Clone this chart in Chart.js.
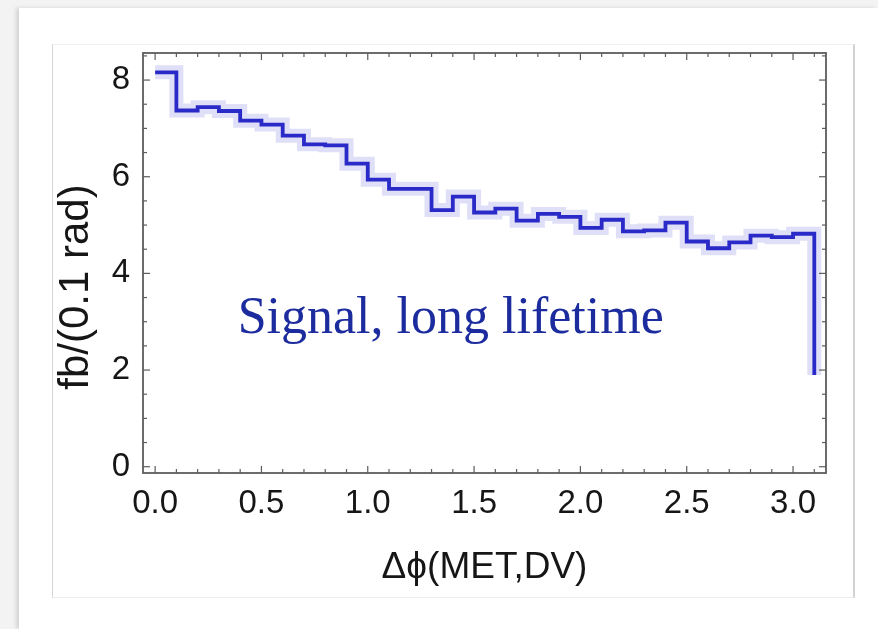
<!DOCTYPE html>
<html>
<head>
<meta charset="utf-8">
<script src="https://cdn.jsdelivr.net/npm/chart.js@4.4.0/dist/chart.umd.min.js"></script>
<style>
  html, body { margin: 0; padding: 0; }
  body { width: 878px; height: 629px; background: #f3f3f3; position: relative; overflow: hidden; }
  .slide { position: absolute; left: 19px; top: 8px; right: 0; bottom: 0; background: #fff; box-shadow: -3px 0 4px rgba(0,0,0,0.13); }
  .panel { position: absolute; left: 52px; top: 44px; width: 800px; height: 552px;
           border-left: 1px solid #d6d6d6; border-top: 1px solid #efefef;
           border-right: 2px solid #d2d2d2; border-bottom: 1px solid #ececec; background: #fff; }
  #wrap { position: absolute; left: 0; top: 0; width: 878px; height: 629px; }
</style>
</head>
<body>
<div class="slide"></div>
<div class="panel"></div>
<div id="wrap"><canvas id="chart" width="878" height="629"></canvas></div>
<script>
// bin edges (rad), one value per 0.1 rad bin, last point is the drop at the end
const binEdges = [0.0, 0.1, 0.2, 0.3, 0.4, 0.5, 0.6, 0.7, 0.8, 0.9,
                  1.0, 1.1, 1.2, 1.3, 1.4, 1.5, 1.6, 1.7, 1.8, 1.9,
                  2.0, 2.1, 2.2, 2.3, 2.4, 2.5, 2.6, 2.7, 2.8, 2.9,
                  3.0, 3.1];
const signalValues = [8.16, 7.37, 7.44, 7.36, 7.16, 7.08, 6.85, 6.67, 6.65, 6.27,
                      5.94, 5.75, 5.75, 5.31, 5.59, 5.26, 5.34, 5.09, 5.23, 5.17,
                      4.94, 5.11, 4.87, 4.89, 5.05, 4.66, 4.52, 4.64, 4.78, 4.75,
                      4.82, 1.90];
const xTicks = [0.0, 0.5, 1.0, 1.5, 2.0, 2.5, 3.0];
const xTickLabels = ["0.0", "0.5", "1.0", "1.5", "2.0", "2.5", "3.0"];
const yTicks = [0, 2, 4, 6, 8];
const yTickLabels = ["0", "2", "4", "6", "8"];
const xTitle = "\u0394\u03D5(MET,DV)";
const yTitle = "fb/(0.1 rad)";
const noteText = "Signal, long lifetime";

const points = binEdges.map((x, i) => ({ x: x, y: signalValues[i] }));

Chart.defaults.font.family = "'Liberation Sans', Arial, sans-serif";
Chart.defaults.color = "#161616";

// box frame with inward ticks on all four sides, y title and the annotation
const framePlugin = {
  id: "frame",
  afterDatasetsDraw(chart) {
    const { ctx, chartArea: a, scales } = chart;
    const x = scales.x, y = scales.y;
    const seg = (x1, y1, x2, y2) => { ctx.beginPath(); ctx.moveTo(x1, y1); ctx.lineTo(x2, y2); ctx.stroke(); };
    ctx.save();
    ctx.strokeStyle = "#5c5c5c";
    ctx.lineWidth = 1.2;
    for (let i = 0; i <= 31; i++) {
      const px = x.getPixelForValue(i / 10);
      const len = i % 5 === 0 ? 7 : 4;
      seg(px, a.bottom, px, a.bottom - len);
      seg(px, a.top, px, a.top + len);
    }
    for (let i = 0; i <= 17; i++) {
      const py = y.getPixelForValue(i / 2);
      const len = i % 4 === 0 ? 7 : 4;
      seg(a.left, py, a.left + len, py);
      seg(a.right, py, a.right - len, py);
    }
    ctx.lineWidth = 1.8;
    ctx.strokeRect(a.left, a.top, a.right - a.left, a.bottom - a.top);

    // y axis title, rotated
    ctx.save();
    ctx.translate(76, 287);
    ctx.rotate(-Math.PI / 2);
    ctx.fillStyle = "#161616";
    ctx.font = "42px 'Liberation Sans', Arial, sans-serif";
    ctx.textAlign = "center";
    ctx.textBaseline = "middle";
    ctx.fillText(yTitle, 0, 0);
    ctx.restore();

    ctx.fillStyle = "#1c2c9e";
    ctx.font = "52px 'Liberation Serif', 'Times New Roman', serif";
    ctx.textAlign = "center";
    ctx.textBaseline = "alphabetic";
    ctx.fillText(noteText, x.getPixelForValue(1.39), y.getPixelForValue(2.77));
    ctx.restore();
  }
};

new Chart(document.getElementById("chart"), {
  type: "line",
  data: {
    datasets: [
      {
        data: points,
        stepped: "before",
        borderColor: "#2a2ac8",
        borderWidth: 3.8,
        pointRadius: 0,
        fill: false,
        order: 1
      },
      {
        data: points,
        stepped: "before",
        borderColor: "rgba(110, 110, 225, 0.22)",
        borderWidth: 14,
        pointRadius: 0,
        fill: false,
        order: 2
      }
    ]
  },
  options: {
    responsive: false,
    animation: false,
    layout: { padding: { left: 0, top: 53, right: 52, bottom: 0 } },
    plugins: { legend: { display: false }, tooltip: { enabled: false } },
    scales: {
      x: {
        type: "linear",
        min: -0.057,
        max: 3.155,
        grid: { display: false, drawTicks: false },
        border: { display: false },
        afterBuildTicks: (s) => { s.ticks = xTicks.map(v => ({ value: v })); },
        afterFit: (s) => { s.height = 156; },
        ticks: {
          padding: 11,
          maxRotation: 0,
          font: { size: 33 },
          callback: (v) => xTickLabels[xTicks.indexOf(v)]
        },
        title: { display: true, text: xTitle, font: { size: 37 }, padding: { top: 0, bottom: 39 } }
      },
      y: {
        type: "linear",
        min: -0.13,
        max: 8.56,
        grid: { display: false, drawTicks: false },
        border: { display: false },
        afterBuildTicks: (s) => { s.ticks = yTicks.map(v => ({ value: v })); },
        afterFit: (s) => { s.width = 143; },
        ticks: {
          padding: 13,
          font: { size: 33 },
          callback: (v) => yTickLabels[yTicks.indexOf(v)]
        }
      }
    }
  },
  plugins: [framePlugin]
});
</script>
</body>
</html>
